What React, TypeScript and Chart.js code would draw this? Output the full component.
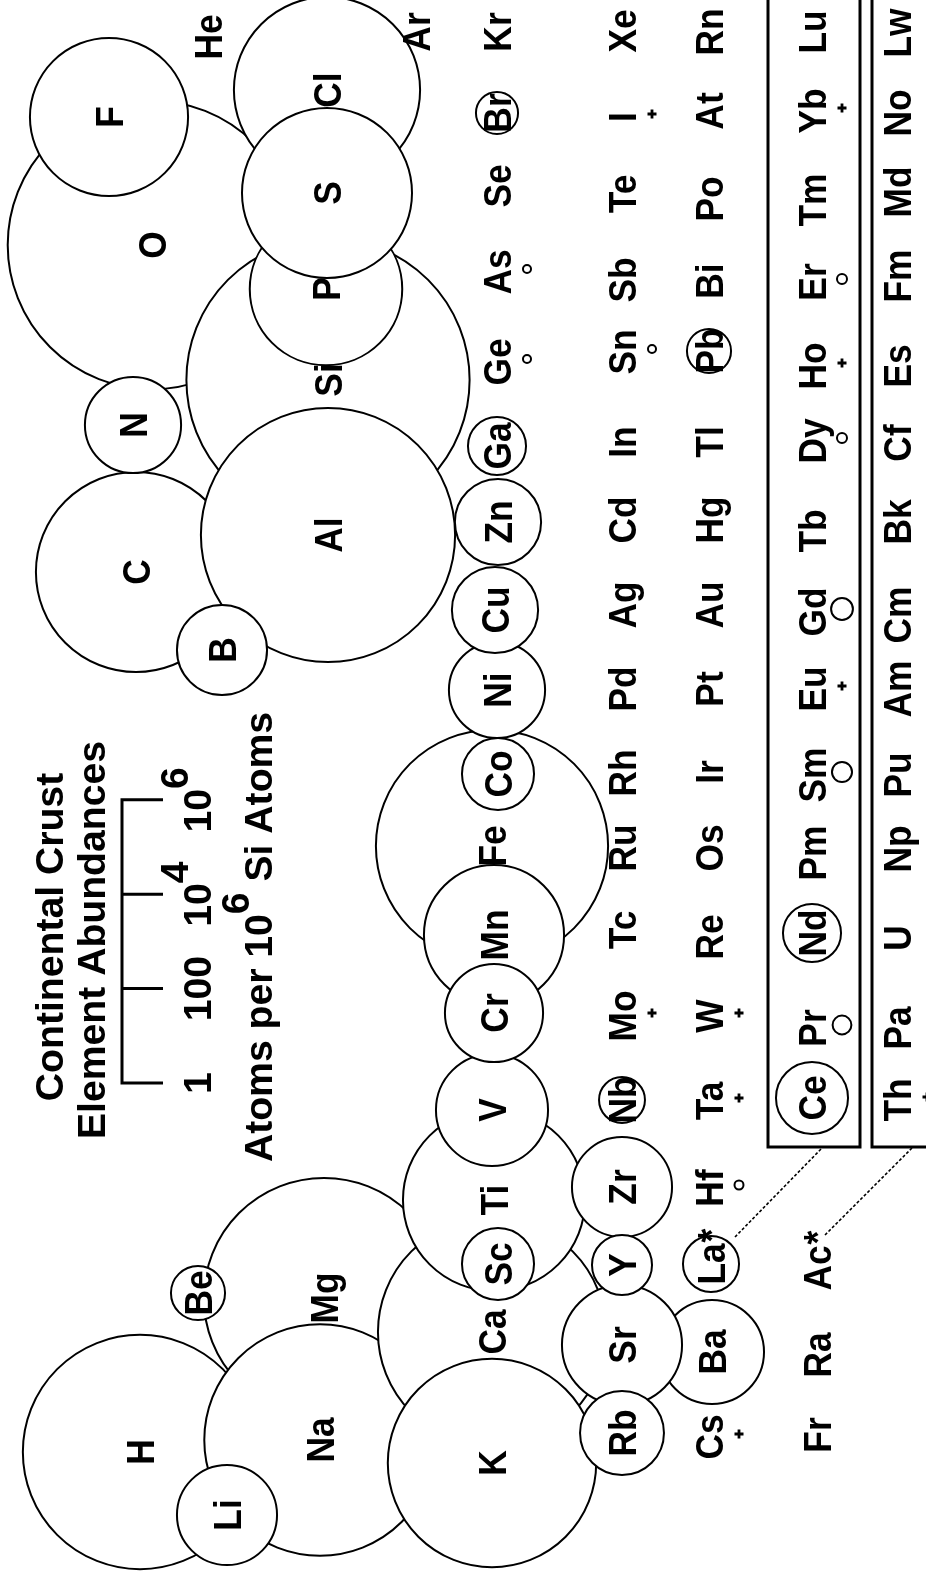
import React, { useEffect, useRef } from "react";
import { Chart, registerables } from "chart.js";

Chart.register(...registerables);

// ---------------- data ----------------
// Element symbols, in blocks: periods 1-3, period 4, period 5, period 6, period 7, lanthanides, actinides
const SYMBOLS = [
  "H", "He", "Li", "Be", "B", "C", "N", "O", "F", "Na", "Mg", "Al", "Si", "P", "S", "Cl", "Ar",
  "K", "Ca", "Sc", "Ti", "V", "Cr", "Mn", "Fe", "Co", "Ni", "Cu", "Zn", "Ga", "Ge", "As", "Se", "Br", "Kr",
  "Rb", "Sr", "Y", "Zr", "Nb", "Mo", "Tc", "Ru", "Rh", "Pd", "Ag", "Cd", "In", "Sn", "Sb", "Te", "I", "Xe",
  "Cs", "Ba", "La", "Hf", "Ta", "W", "Re", "Os", "Ir", "Pt", "Au", "Hg", "Tl", "Pb", "Bi", "Po", "At", "Rn",
  "Fr", "Ra", "Ac",
  "Ce", "Pr", "Nd", "Pm", "Sm", "Eu", "Gd", "Tb", "Dy", "Ho", "Er", "Tm", "Yb", "Lu",
  "Th", "Pa", "U", "Np", "Pu", "Am", "Cm", "Bk", "Cf", "Es", "Fm", "Md", "No", "Lw",
];

// Position of each element across the (rotated) table: row direction (horizontal on the page)
const ROW_POS = [
  14.0, 20.8, 22.7, 19.8, 22.2, 13.6, 13.3, 15.2, 10.9, 32.0, 32.4, 32.8, 32.8, 32.6, 32.7, 32.7, 41.6,
  49.2, 49.2, 49.8, 49.4, 49.2, 49.4, 49.4, 49.2, 49.8, 49.7, 49.5, 49.8, 49.7, 49.7, 49.7, 49.7, 49.7, 49.7,
  62.2, 62.2, 62.2, 62.2, 62.2, 62.2, 62.2, 62.2, 62.2, 62.2, 62.2, 62.2, 62.2, 62.2, 62.2, 62.2, 62.2, 62.2,
  70.9, 71.2, 71.1, 70.9, 70.9, 70.9, 70.9, 70.9, 70.9, 70.9, 70.9, 70.9, 70.9, 70.9, 70.9, 70.9, 70.9, 70.9,
  81.7, 81.7, 81.7,
  81.2, 81.2, 81.2, 81.2, 81.2, 81.2, 81.2, 81.2, 81.2, 81.2, 81.2, 81.2, 81.2, 81.2,
  89.7, 89.7, 89.7, 89.7, 89.7, 89.7, 89.7, 89.7, 89.7, 89.7, 89.7, 89.7, 89.7, 89.7,
];

// Position along the group direction (vertical on the page, group 1 at the bottom)
const COL_POS = [
  145.2, 3.7, 151.5, 129.3, 65.0, 57.2, 42.5, 24.5, 11.7, 144.0, 129.8, 53.5, 38.0, 28.9, 19.3, 9.0, 3.2,
  146.3, 133.2, 126.4, 120.0, 111.0, 101.3, 93.5, 84.6, 77.4, 69.0, 61.0, 52.2, 44.6, 36.2, 27.2, 18.6, 11.3, 3.2,
  143.3, 134.5, 126.5, 118.7, 110.0, 101.6, 93.0, 84.8, 77.3, 68.9, 60.5, 52.0, 44.2, 35.2, 28.0, 19.4, 11.7, 3.1,
  143.7, 135.2, 126.4, 118.8, 110.1, 101.6, 93.7, 84.8, 77.2, 68.9, 60.5, 52.0, 44.2, 35.1, 28.1, 19.9, 11.1, 3.2,
  143.5, 135.5, 126.8,
  109.8, 102.8, 93.3, 85.3, 77.5, 68.9, 61.2, 53.1, 44.1, 36.6, 28.2, 20.0, 11.1, 3.2,
  110.0, 102.8, 93.8, 84.9, 77.5, 68.9, 61.5, 52.2, 44.3, 36.6, 27.6, 19.2, 11.3, 3.3,
];

// Atoms per 10^6 Si atoms (null = not marked on the chart)
const ABUNDANCE: (number | null)[] = [
  9.2e4, null, 132, 14, 81, 1.74e4, 109, 1.3e6, 2240, 8.0e4, 1.23e5, 2.43e5, 1e6, 1700, 4000, 8800, null,
  2.6e4, 6.8e4, 33.6, 7200, 237, 120, 930, 8.3e4, 33.6, 109, 67, 67, 17, 1.48, 1.48, null, 7.8, null,
  60, 350, 18.7, 132, 9.4, 0.7, null, null, null, null, null, null, null, 1.48, null, null, 0.5, null,
  0.7, 160, 15.4, 1.55, 0.6, 0.5, null, null, null, null, null, null, null, 8.6, null, null, null, null,
  null, null, null,
  33.6, 2.5, 17, null, 2.66, 0.7, 2.9, null, 1.63, 0.5, 1.63, null, 0.7, null,
  0.7, null, null, null, null, null, null, null, null, null, null, null, null, null,
];

// Stacking of the circles, bottom to top
const DRAW_ORDER = [
  "C", "O", "Si", "Al", "Mg", "H", "Fe", "Na", "Ca", "K", "Cl", "Ti", "P", "S", "F", "Mn", "Ba", "Sr",
  "V", "Li", "Zr", "Cr", "N", "Ni", "B", "Cu", "Zn", "Rb", "Sc", "Co", "Ce", "Y", "Ga", "Nd", "La",
  "Be", "Nb", "Pb", "Br", "Gd", "Sm", "Pr", "Er", "Dy", "Hf", "Ge", "As", "Sn",
];

const STARRED = ["La", "Ac"];

const TITLE_LINES = ["Continental Crust", "Element Abundances"];
const SCALE_TICKS = [1, 100, 1e4, 1e6];
const SCALE_TICK_BASE = ["1", "100", "10", "10"];
const SCALE_TICK_EXP = ["", "", "4", "6"];
const UNITS_PARTS = ["Atoms per 10", "6", " Si Atoms"];

// ---------------- layout / style ----------------
const W = 926;
const H = 1581;
const X_MAX = 92.6;
const Y_MAX = 158.1;
const PX_PER_DECADE = 47.2; // diameter of a circle grows by this per decade
const SMALL_LIMIT = 5; // circles below this abundance sit beside the symbol
const MARK_DX = 3.0;
const MARK_DY = -0.3;
const FONT = 'bold 38px "Liberation Sans", Arial, sans-serif';
const LABEL_SX = 0.93;
const LEGEND_SX = 1.03;
const CAP = 27.2;
const SUP_RAISE = 23;

const radiusFor = (a: number) => (PX_PER_DECADE / 2) * Math.log10(a);

function rotText(ctx: CanvasRenderingContext2D, text: string, x: number, y: number, align: CanvasTextAlign, sx: number) {
  ctx.save();
  ctx.translate(x, y);
  ctx.rotate(-Math.PI / 2);
  ctx.scale(sx, 1);
  ctx.textAlign = align;
  ctx.textBaseline = "alphabetic";
  ctx.fillText(text, 0, 0);
  ctx.restore();
}

function textW(ctx: CanvasRenderingContext2D, t: string, sx: number) {
  return ctx.measureText(t).width * sx;
}

function rotParts(ctx: CanvasRenderingContext2D, parts: { t: string; sup: boolean }[], baseX: number, centerY: number) {
  const total = parts.reduce((s, p) => s + textW(ctx, p.t, LEGEND_SX), 0);
  let yy = centerY + total / 2;
  for (const p of parts) {
    rotText(ctx, p.t, baseX - (p.sup ? SUP_RAISE : 0), yy, "left", LEGEND_SX);
    yy -= textW(ctx, p.t, LEGEND_SX);
  }
}

const decorPlugin = {
  id: "decor",
  afterDatasetsDraw(chart: any) {
    const ctx: CanvasRenderingContext2D = chart.ctx;
    const sx = (v: number) => chart.scales.x.getPixelForValue(v);
    const sy = (v: number) => chart.scales.y.getPixelForValue(v);
    ctx.save();
    ctx.fillStyle = "#000";
    ctx.strokeStyle = "#000";

    // lanthanide / actinide boxes
    ctx.lineWidth = 3;
    ctx.strokeRect(sx(76.8), sy(-2), sx(86.0) - sx(76.8), sy(114.7) - sy(-2));
    ctx.strokeRect(sx(87.2), sy(-2), sx(96) - sx(87.2), sy(114.7) - sy(-2));

    // leader lines from La* and Ac*
    ctx.lineWidth = 1.6;
    ctx.setLineDash([3, 2]);
    ctx.beginPath();
    ctx.moveTo(sx(73.5), sy(123.7));
    ctx.lineTo(sx(82.2), sy(114.8));
    ctx.moveTo(sx(82.5), sy(123.5));
    ctx.lineTo(sx(91.2), sy(114.8));
    ctx.stroke();
    ctx.setLineDash([]);

    ctx.font = FONT;

    // legend: title
    rotParts(ctx, [{ t: TITLE_LINES[0], sup: false }], sx(6.3), sy(93.7));
    rotParts(ctx, [{ t: TITLE_LINES[1], sup: false }], sx(10.5), sy(94.0));

    // legend: scale bracket (log scale of circle diameter)
    const yOne = sy(108.3);
    const bx = sx(12.2);
    const tx = sx(16.3);
    ctx.lineWidth = 3;
    ctx.beginPath();
    ctx.moveTo(bx, yOne);
    ctx.lineTo(bx, yOne - PX_PER_DECADE * Math.log10(SCALE_TICKS[SCALE_TICKS.length - 1]));
    SCALE_TICKS.forEach((v) => {
      const yy = yOne - PX_PER_DECADE * Math.log10(v);
      ctx.moveTo(bx - 1.5, yy);
      ctx.lineTo(tx, yy);
    });
    ctx.stroke();
    SCALE_TICKS.forEach((v, i) => {
      const yy = yOne - PX_PER_DECADE * Math.log10(v);
      const parts = [{ t: SCALE_TICK_BASE[i], sup: false }];
      if (SCALE_TICK_EXP[i]) parts.push({ t: SCALE_TICK_EXP[i], sup: true });
      rotParts(ctx, parts, sx(21.1), yy);
    });
    rotParts(
      ctx,
      [
        { t: UNITS_PARTS[0], sup: false },
        { t: UNITS_PARTS[1], sup: true },
        { t: UNITS_PARTS[2], sup: false },
      ],
      sx(27.2),
      sy(93.7)
    );

    // element symbols
    SYMBOLS.forEach((s, i) => {
      const x = sx(ROW_POS[i]);
      const y = sy(COL_POS[i]);
      rotText(ctx, s, x + CAP / 2, y, "center", LABEL_SX);
      if (STARRED.includes(s)) {
        const w = textW(ctx, s, LABEL_SX);
        rotText(ctx, "*", x + CAP / 2, y - w / 2 - 1, "left", LABEL_SX);
      }
    });
    ctx.restore();
  },
};

export default function App() {
  const ref = useRef<HTMLCanvasElement | null>(null);

  useEffect(() => {
    document.body.style.margin = "0";
    const canvas = ref.current;
    if (!canvas) return;

    const idx = (s: string) => SYMBOLS.indexOf(s);
    const circles = DRAW_ORDER.map((s) => {
      const i = idx(s);
      const a = ABUNDANCE[i] as number;
      const small = a < SMALL_LIMIT;
      return {
        x: ROW_POS[i] + (small ? MARK_DX : 0),
        y: COL_POS[i] + (small ? MARK_DY : 0),
        r: radiusFor(a),
      };
    });
    const crosses = SYMBOLS.map((s, i) => ({ s, i, a: ABUNDANCE[i] }))
      .filter((e) => e.a !== null && (e.a as number) < 1)
      .map((e) => ({ x: ROW_POS[e.i] + MARK_DX, y: COL_POS[e.i] + MARK_DY, r: 4.5 }));

    const chart = new Chart(canvas, {
      type: "bubble",
      data: {
        datasets: [
          {
            label: "circles",
            data: circles,
            backgroundColor: "#ffffff",
            borderColor: "#000000",
            borderWidth: 2,
          },
          {
            label: "below 1",
            data: crosses,
            pointStyle: "cross",
            backgroundColor: "#000000",
            borderColor: "#000000",
            borderWidth: 2.8,
          },
        ],
      },
      options: {
        animation: false,
        responsive: false,
        maintainAspectRatio: false,
        events: [],
        layout: { padding: 0, autoPadding: false },
        plugins: { legend: { display: false }, tooltip: { enabled: false } },
        scales: {
          x: { type: "linear", min: 0, max: X_MAX, display: false },
          y: { type: "linear", min: 0, max: Y_MAX, reverse: true, display: false },
        },
      },
      plugins: [decorPlugin],
    } as any);

    return () => chart.destroy();
  }, []);

  return (
    <div style={{ width: W, height: H, background: "#fff" }}>
      <canvas ref={ref} width={W} height={H} style={{ display: "block" }} />
    </div>
  );
}
